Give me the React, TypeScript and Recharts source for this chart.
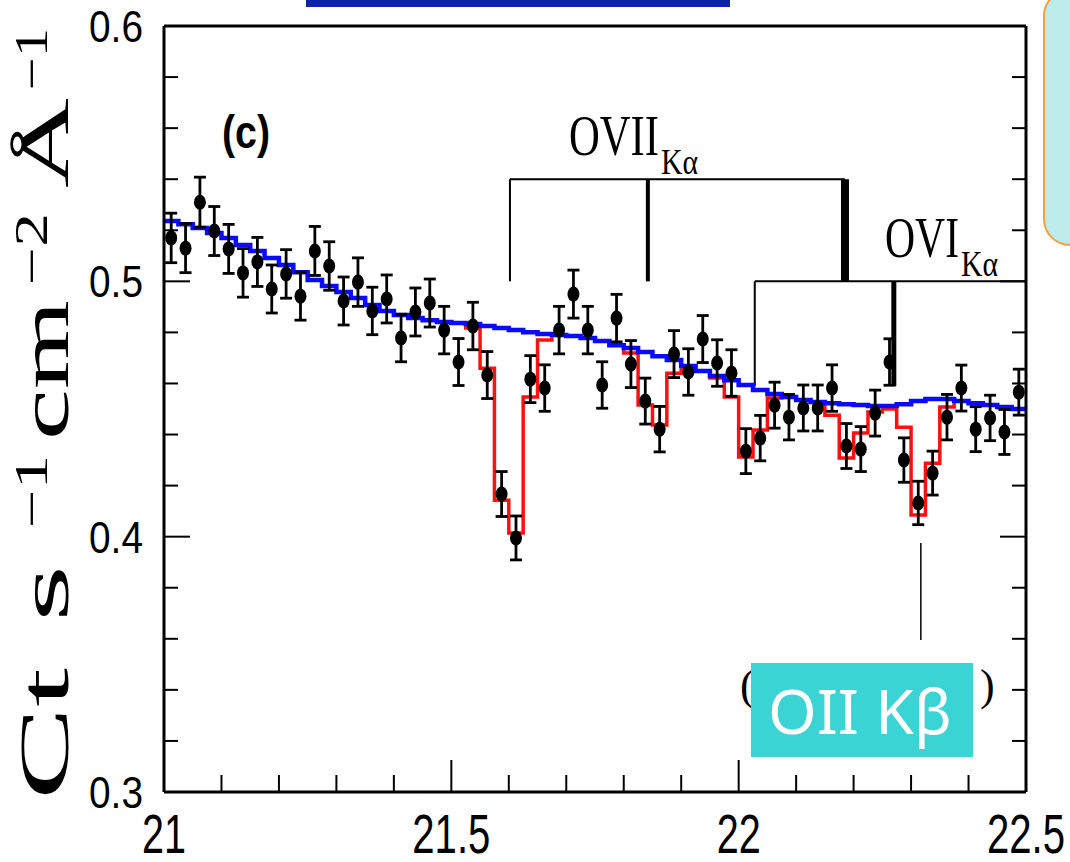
import React from 'react'
import { ComposedChart, XAxis, YAxis, Line, Scatter, ErrorBar, ReferenceLine } from 'recharts'

const W = 1070
const H = 862

// spectral bin centres (Å)
const wavelength = [
  21.0125, 21.0375, 21.0625, 21.0875, 21.1125, 21.1375, 21.1625, 21.1875, 21.2125, 21.2375,
  21.2625, 21.2875, 21.3125, 21.3375, 21.3625, 21.3875, 21.4125, 21.4375, 21.4625, 21.4875,
  21.5125, 21.5375, 21.5625, 21.5875, 21.6125, 21.6375, 21.6625, 21.6875, 21.7125, 21.7375,
  21.7625, 21.7875, 21.8125, 21.8375, 21.8625, 21.8875, 21.9125, 21.9375, 21.9625, 21.9875,
  22.0125, 22.0375, 22.0625, 22.0875, 22.1125, 22.1375, 22.1625, 22.1875, 22.2125, 22.2375,
  22.2625, 22.2875, 22.3125, 22.3375, 22.3625, 22.3875, 22.4125, 22.4375, 22.4625, 22.4875,
]

// measured flux, Ct s^-1 cm^-2 Å^-1
const counts = [
  0.517, 0.513, 0.531, 0.5197, 0.5127, 0.5033, 0.5076, 0.497, 0.5029, 0.4942,
  0.5119, 0.506, 0.4923, 0.4997, 0.4884, 0.4931, 0.4778, 0.488, 0.4915, 0.4809,
  0.4684, 0.4825, 0.4633, 0.4167, 0.3995, 0.4617, 0.4582, 0.4809, 0.495, 0.4809,
  0.4594, 0.4856, 0.4676, 0.4531, 0.4421, 0.4715, 0.4645, 0.4774, 0.468, 0.4641,
  0.4335, 0.4386, 0.4515, 0.4468, 0.4504, 0.4504, 0.4582, 0.4355, 0.4343, 0.4484,
  0.4684, 0.43, 0.4132, 0.4249, 0.4468, 0.4582, 0.4421, 0.4465, 0.441, 0.4566,
]

const countErr = [
  0.0097, 0.0096, 0.0098, 0.0096, 0.0096, 0.0095, 0.0096, 0.0094, 0.0095, 0.0094,
  0.0096, 0.0095, 0.0094, 0.0095, 0.0093, 0.0094, 0.0093, 0.0094, 0.0094, 0.0093,
  0.0092, 0.0093, 0.0092, 0.0088, 0.0086, 0.0092, 0.0091, 0.0093, 0.0094, 0.0093,
  0.0091, 0.0093, 0.0092, 0.009, 0.0089, 0.0092, 0.0091, 0.0092, 0.0091, 0.0091,
  0.0088, 0.0089, 0.009, 0.0089, 0.009, 0.009, 0.0091, 0.0088, 0.0088, 0.009,
  0.0091, 0.0087, 0.0085, 0.0086, 0.0089, 0.009, 0.0088, 0.0089, 0.0088, 0.009,
]

// continuum model (blue), one value per bin
const continuum = [
  0.5236, 0.5224, 0.5209, 0.5189, 0.517, 0.5142, 0.5119, 0.5091, 0.5064, 0.5036,
  0.5005, 0.4982, 0.4958, 0.4935, 0.4907, 0.4884, 0.4868, 0.4856, 0.4848, 0.4841,
  0.4837, 0.4833, 0.4825, 0.4817, 0.4809, 0.4801, 0.4794, 0.479, 0.4786, 0.4778,
  0.4766, 0.475, 0.4739, 0.4723, 0.4707, 0.4692, 0.4668, 0.4649, 0.4629, 0.4613,
  0.4594, 0.4574, 0.4559, 0.4547, 0.4535, 0.4527, 0.4523, 0.4519, 0.4516, 0.4512,
  0.4512, 0.4519, 0.4531, 0.4539, 0.4539, 0.4531, 0.4523, 0.4516, 0.4508, 0.45,
]

// absorption model (red), bins 20..54
const MODEL_FIRST = 20
const model = [
  0.4837, 0.4817, 0.466, 0.4143, 0.4014, 0.4547, 0.477, 0.479, 0.4786, 0.4778,
  0.4766, 0.475, 0.4719, 0.4516, 0.4437, 0.464, 0.4668, 0.4649, 0.4621, 0.4547,
  0.4312, 0.4418, 0.4543, 0.4547, 0.4535, 0.4527, 0.4476, 0.4308, 0.4406, 0.4488,
  0.45, 0.4429, 0.4085, 0.4288, 0.4508,
]

const xTicks = [21, 21.1, 21.2, 21.3, 21.4, 21.5, 21.6, 21.7, 21.8, 21.9, 22, 22.1, 22.2, 22.3, 22.4, 22.5]
const yTicks = [
  0.3, 0.32, 0.34, 0.36, 0.38, 0.4, 0.42, 0.44, 0.46, 0.48,
  0.5, 0.52, 0.54, 0.56, 0.58, 0.6,
]

const BIN = 0.025
const edges = wavelength.map((w) => w - BIN / 2)

const points = wavelength.map((x, i) => ({ x, y: counts[i], err: countErr[i] }))
const continuumSteps = [
  ...edges.map((x, i) => ({ x, y: continuum[i] })),
  { x: wavelength[wavelength.length - 1] + BIN / 2, y: continuum[continuum.length - 1] },
]
const modelEnd = MODEL_FIRST + model.length
const modelSteps = [
  ...model.map((y, i) => ({ x: edges[MODEL_FIRST + i], y })),
  { x: edges[modelEnd], y: continuum[modelEnd] },
]

const isMajorX = (v: number) => Math.abs(v * 2 - Math.round(v * 2)) < 1e-6
const isMajorY = (v: number) => Math.abs(v * 10 - Math.round(v * 10)) < 1e-6
const labelWidth = (s: string) => s.replace('.', '').length * 22 + (s.includes('.') ? 12 : 0)

const sans = 'Liberation Sans, Arial, sans-serif'
const serif = 'Liberation Serif, Times New Roman, serif'

const BottomTick = ({ x, y, payload }: any) => {
  const v = payload.value
  const major = isMajorX(v)
  const s = String(v)
  return (
    <g>
      <line x1={x} x2={x} y1={y} y2={y - (major ? 32 : 17)} stroke="#000" strokeWidth={2} />
      {major && (
        <text x={x} y={y + 61} textAnchor="middle" fontFamily={sans} fontSize={56} fill="#000"
          textLength={labelWidth(s)} lengthAdjust="spacingAndGlyphs">
          {s}
        </text>
      )}
    </g>
  )
}

const TopTick = ({ x, y, payload }: any) => (
  <line x1={x} x2={x} y1={y} y2={y + (isMajorX(payload.value) ? 32 : 17)} stroke="#000" strokeWidth={2} />
)

const LeftTick = ({ x, y, payload }: any) => {
  const v = payload.value
  const major = isMajorY(v)
  const s = v.toFixed(1)
  return (
    <g>
      <line x1={x} x2={x + (major ? 26 : 14)} y1={y} y2={y} stroke="#000" strokeWidth={2} />
      {major && (
        <text x={x - 21} y={y + 16} textAnchor="end" fontFamily={sans} fontSize={45} fill="#000"
          textLength={54} lengthAdjust="spacingAndGlyphs">
          {s}
        </text>
      )}
    </g>
  )
}

const RightTick = ({ x, y, payload }: any) => (
  <line x1={x} x2={x - (isMajorY(payload.value) ? 26 : 14)} y1={y} y2={y} stroke="#000" strokeWidth={2} />
)

const Dot = (p: any) => <ellipse cx={p.cx} cy={p.cy} rx={6} ry={7.5} fill="#000" />

// rotated y-axis title, laid out piece by piece along the axis
const yTitle = [
  { t: 'Ct', u: 0, len: 132, fs: 70, v: 0 },
  { t: 's', u: 178, len: 57, fs: 70, v: 0 },
  { t: '\u22121', u: 272, len: 73, fs: 46, v: -21 },
  { t: 'cm', u: 360, len: 140, fs: 70, v: 0 },
  { t: '\u22122', u: 515, len: 72, fs: 46, v: -21 },
  { t: '\u00c5', u: 612, len: 90, fs: 70, v: 0 },
  { t: '\u22121', u: 710, len: 62, fs: 46, v: -21 },
]

const Overlay = () => (
  <svg width={W} height={H} style={{ position: 'absolute', left: 0, top: 0, pointerEvents: 'none' }}>
    <rect x={306} y={0} width={424} height={7} fill="#0b22aa" />
    <rect x={1044} y={-10} width={70} height={255} rx={26} fill="#bdebeb" stroke="#f2a23a" strokeWidth={2} />

    <g transform="translate(68,800) rotate(-90)">
      {yTitle.map((p, i) => (
        <text key={i} x={p.u} y={p.v} fontFamily={serif} fontSize={p.fs} fill="#000"
          textLength={p.len} lengthAdjust="spacingAndGlyphs">
          {p.t}
        </text>
      ))}
    </g>

    <text x={222} y={148} fontFamily={sans} fontSize={46} fontWeight="bold" fill="#000"
      textLength={48} lengthAdjust="spacingAndGlyphs">(c)</text>

    <text x={569} y={155} fontFamily={serif} fontSize={58} fill="#000" textLength={90} lengthAdjust="spacingAndGlyphs">OVII</text>
    <text x={661} y={174} fontFamily={serif} fontSize={36} fill="#000" textLength={37} lengthAdjust="spacingAndGlyphs">Kα</text>
    <text x={885} y={257} fontFamily={serif} fontSize={58} fill="#000" textLength={74} lengthAdjust="spacingAndGlyphs">OVI</text>
    <text x={961} y={276} fontFamily={serif} fontSize={36} fill="#000" textLength={37} lengthAdjust="spacingAndGlyphs">Kα</text>

    <text x={740} y={700} fontFamily={serif} fontSize={44} fill="#000">(</text>
    <text x={980} y={700} fontFamily={serif} fontSize={44} fill="#000">)</text>
    <rect x={751} y={663} width={222} height={94} fill="#3ad4d4" />
    <text x={768} y={734} fontFamily="Noto Sans, sans-serif" fontSize={62} fill="#fff"
      textLength={184} lengthAdjust="spacingAndGlyphs">OII Kβ</text>
  </svg>
)

export default function App() {
  return (
    <div style={{ position: 'absolute', left: 0, top: 0, width: W, height: H, background: '#fff' }}>
      <ComposedChart width={W} height={H} margin={{ top: 0, right: 0, bottom: 0, left: 0 }}>
        <XAxis xAxisId="b" dataKey="x" type="number" domain={[21, 22.5]} ticks={xTicks} interval={0}
          allowDataOverflow orientation="bottom" height={70} tickSize={0} tickMargin={0} tickLine={false}
          axisLine={{ stroke: '#000', strokeWidth: 3 }} tick={<BottomTick />} />
        <XAxis xAxisId="t" type="number" domain={[21, 22.5]} ticks={xTicks} interval={0}
          allowDataOverflow orientation="top" height={26} tickSize={0} tickMargin={0} tickLine={false}
          axisLine={{ stroke: '#000', strokeWidth: 3 }} tick={<TopTick />} />
        <YAxis yAxisId="l" type="number" domain={[0.3, 0.6]} ticks={yTicks} interval={0}
          allowDataOverflow orientation="left" width={164} tickSize={0} tickMargin={0} tickLine={false}
          axisLine={{ stroke: '#000', strokeWidth: 3 }} tick={<LeftTick />} />
        <YAxis yAxisId="r" type="number" domain={[0.3, 0.6]} ticks={yTicks} interval={0}
          allowDataOverflow orientation="right" width={44} tickSize={0} tickMargin={0} tickLine={false}
          axisLine={{ stroke: '#000', strokeWidth: 3 }} tick={<RightTick />} />

        {/* OVII Kα triplet marker */}
        <ReferenceLine xAxisId="b" yAxisId="l" ifOverflow="visible" stroke="#000" strokeWidth={2}
          segment={[{ x: 21.602, y: 0.54 }, { x: 22.185, y: 0.54 }]} />
        <ReferenceLine xAxisId="b" yAxisId="l" ifOverflow="visible" stroke="#000" strokeWidth={2}
          segment={[{ x: 21.602, y: 0.54 }, { x: 21.602, y: 0.5 }]} />
        <ReferenceLine xAxisId="b" yAxisId="l" ifOverflow="visible" stroke="#000" strokeWidth={4}
          segment={[{ x: 21.842, y: 0.54 }, { x: 21.842, y: 0.5 }]} />
        <ReferenceLine xAxisId="b" yAxisId="l" ifOverflow="visible" stroke="#000" strokeWidth={8}
          segment={[{ x: 22.185, y: 0.54 }, { x: 22.185, y: 0.5 }]} />
        {/* OVI Kα marker */}
        <ReferenceLine xAxisId="b" yAxisId="l" ifOverflow="visible" stroke="#000" strokeWidth={2}
          segment={[{ x: 22.028, y: 0.5 }, { x: 22.5, y: 0.5 }]} />
        <ReferenceLine xAxisId="b" yAxisId="l" ifOverflow="visible" stroke="#000" strokeWidth={2}
          segment={[{ x: 22.028, y: 0.5 }, { x: 22.028, y: 0.459 }]} />
        <ReferenceLine xAxisId="b" yAxisId="l" ifOverflow="visible" stroke="#000" strokeWidth={5}
          segment={[{ x: 22.27, y: 0.5 }, { x: 22.27, y: 0.459 }]} />
        {/* OII Kβ marker */}
        <ReferenceLine xAxisId="b" yAxisId="l" ifOverflow="visible" stroke="#000" strokeWidth={1.5}
          segment={[{ x: 22.317, y: 0.3975 }, { x: 22.317, y: 0.3595 }]} />

        <Line xAxisId="b" yAxisId="l" data={modelSteps} dataKey="y" type="stepAfter" stroke="#ff1010"
          strokeWidth={3.5} dot={false} isAnimationActive={false} />
        <Line xAxisId="b" yAxisId="l" data={continuumSteps} dataKey="y" type="stepAfter" stroke="#0a0aff"
          strokeWidth={4.5} dot={false} isAnimationActive={false} />
        <Scatter xAxisId="b" yAxisId="l" data={points} dataKey="y" shape={Dot} isAnimationActive={false}>
          <ErrorBar dataKey="err" direction="y" width={6} strokeWidth={2.8} stroke="#000" isAnimationActive={false} />
        </Scatter>
      </ComposedChart>
      <Overlay />
    </div>
  )
}
